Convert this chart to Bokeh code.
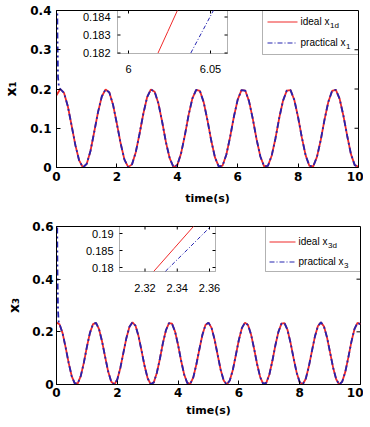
import math
from bokeh.plotting import figure
from bokeh.layouts import column
from bokeh.models import Range1d, BoxAnnotation, FixedTicker
from bokeh.core.properties import value
from bokeh.embed import file_html
from bokeh.resources import INLINE

# ---------------- data ----------------
time_1 = [round(0.125 * i, 3) for i in range(81)]
ideal_x1d = [0.184, 0.200, 0.190, 0.156, 0.107, 0.057, 0.018, 0.000, 0.009, 0.042,
             0.091, 0.141, 0.181, 0.199, 0.191, 0.159, 0.111, 0.061, 0.020, 0.001,
             0.008, 0.039, 0.086, 0.137, 0.179, 0.199, 0.193, 0.163, 0.116, 0.064,
             0.023, 0.001, 0.006, 0.036, 0.082, 0.134, 0.176, 0.198, 0.195, 0.166,
             0.120, 0.068, 0.025, 0.002, 0.005, 0.033, 0.078, 0.130, 0.173, 0.197,
             0.196, 0.169, 0.124, 0.072, 0.028, 0.003, 0.004, 0.030, 0.074, 0.126,
             0.170, 0.196, 0.197, 0.172, 0.128, 0.076, 0.031, 0.004, 0.003, 0.027,
             0.070, 0.122, 0.167, 0.195, 0.198, 0.175, 0.132, 0.081, 0.034, 0.006,
             0.002]
spike_t1 = [0.0, 0.015, 0.03, 0.05, 0.08]
spike_x1 = [1.2, 0.62, 0.35, 0.23, 0.205]
time_p1 = spike_t1 + time_1[1:]
practical_x1 = spike_x1 + ideal_x1d[1:]

time_3 = [round(0.1 * i, 2) for i in range(101)]
ideal_x3d = [0.235, 0.229, 0.195, 0.141, 0.082, 0.032, 0.004, 0.004, 0.033, 0.083,
             0.143, 0.196, 0.229, 0.234, 0.210, 0.163, 0.105, 0.049, 0.011, 0.000,
             0.019, 0.063, 0.120, 0.177, 0.219, 0.236, 0.223, 0.183, 0.127, 0.069,
             0.023, 0.001, 0.008, 0.044, 0.097, 0.157, 0.206, 0.233, 0.231, 0.201,
             0.150, 0.090, 0.038, 0.006, 0.002, 0.027, 0.076, 0.134, 0.189, 0.226,
             0.235, 0.215, 0.171, 0.113, 0.056, 0.015, 0.000, 0.015, 0.055, 0.112,
             0.170, 0.215, 0.235, 0.226, 0.190, 0.136, 0.077, 0.028, 0.002, 0.006,
             0.037, 0.089, 0.149, 0.200, 0.231, 0.233, 0.207, 0.158, 0.099, 0.045,
             0.009, 0.001, 0.022, 0.068, 0.126, 0.182, 0.222, 0.236, 0.220, 0.178,
             0.121, 0.064, 0.020, 0.000, 0.011, 0.048, 0.103, 0.162, 0.210, 0.234,
             0.229]
spike_t3 = [0.0, 0.015, 0.03, 0.05, 0.07]
spike_x3 = [1.5, 0.8, 0.45, 0.28, 0.24]
time_p3 = spike_t3 + time_3[1:]
practical_x3 = spike_x3 + ideal_x3d[1:]

# zoomed insets
inset1_t_ideal = [6.018, 6.024, 6.030]
inset1_v_ideal = [0.1820, 0.1832, 0.1844]
inset1_t_prac = [6.038, 6.045, 6.052]
inset1_v_prac = [0.1820, 0.1832, 0.1844]
inset1_xticks = [6.0, 6.05]
inset1_xlabels = ["6", "6.05"]
inset1_yticks = [0.182, 0.183, 0.184]
inset1_ylabels = ["0.182", "0.183", "0.184"]

inset3_t_ideal = [2.3255, 2.338, 2.3505]
inset3_v_ideal = [0.1789, 0.1856, 0.1923]
inset3_t_prac = [2.3327, 2.347, 2.3612]
inset3_v_prac = [0.1789, 0.1856, 0.1923]
inset3_xticks = [2.32, 2.34, 2.36]
inset3_xlabels = ["2.32", "2.34", "2.36"]
inset3_yticks = [0.18, 0.185, 0.19]
inset3_ylabels = ["0.18", "0.185", "0.19"]

x_ticks = [0, 2, 4, 6, 8, 10]
y_ticks_1 = [0, 0.1, 0.2, 0.3, 0.4]
y_ticks_3 = [0, 0.2, 0.4, 0.6]

RED = "#f02a2a"
BLUE = "#2424b0"
DASHDOT = "6 3 2 3"


def build(P, y_origin):
    L, T, W, H, YM = P["left"], P["top"], P["w"], P["h"], P["ymax"]

    def mx(px):
        return (px - L) / W * 10.0

    def my(py):
        return (T + H - py) / H * YM

    p = figure(frame_width=W, frame_height=H, output_backend="svg",
               toolbar_location=None,
               x_range=Range1d(0, 10), y_range=Range1d(0, YM),
               min_border_left=L, min_border_right=P["right"],
               min_border_top=T - y_origin, min_border_bottom=P["bbot"],
               background_fill_color="white", border_fill_color="white")
    p.outline_line_color = "black"
    p.outline_line_width = 1
    p.grid.visible = False

    for ax in (p.xaxis[0], p.yaxis[0]):
        ax.major_tick_in = 4
        ax.major_tick_out = 0
        ax.minor_tick_in = 0
        ax.minor_tick_out = 0
        ax.axis_line_color = "black"
        ax.major_tick_line_color = "black"
        ax.major_label_text_font = "DejaVu Sans"
        ax.major_label_text_font_style = "bold"
        ax.major_label_text_font_size = "12px"
        ax.major_label_text_color = "black"
        ax.axis_label_text_font = "DejaVu Sans"
        ax.axis_label_text_font_style = "bold"
        ax.axis_label_text_color = "black"
    p.xaxis[0].ticker = FixedTicker(ticks=x_ticks)
    p.yaxis[0].ticker = FixedTicker(ticks=P["yticks"])
    p.xaxis[0].major_label_standoff = P["xstand"]
    p.yaxis[0].major_label_standoff = P["ystand"]
    p.xaxis[0].axis_label = "time(s)"
    p.xaxis[0].axis_label_text_font_size = "11px"
    p.xaxis[0].axis_label_standoff = P["xlab_stand"]
    p.yaxis[0].axis_label = P["ylab"]
    p.yaxis[0].axis_label_text_font_size = "14px"
    p.yaxis[0].axis_label_standoff = P["ylab_stand"]

    # main curves
    p.line(P["t"], P["ideal"], color=RED, line_width=1.8)
    p.line(P["tp"], P["prac"], color=BLUE, line_width=1.8, line_dash=DASHDOT)

    # right-hand mirrored ticks (box style)
    rt = P["yticks"][1:-1]
    p.segment(x0=[10] * len(rt), y0=rt, x1=[mx(L + W - 4)] * len(rt), y1=rt,
              color="black", line_width=1)

    # ---- inset (zoomed view) mapped through extra ranges ----
    I = P["inset"]
    (xa, xpa), (xb, xpb) = I["xanch"]
    (ya, ypa), (yb, ypb) = I["yanch"]
    sx = (xb - xa) / (xpb - xpa)
    sy = (yb - ya) / (ypb - ypa)
    ixv = lambda px: xa + (px - xpa) * sx
    iyv = lambda py: ya + (py - ypa) * sy
    p.extra_x_ranges = {"ix": Range1d(ixv(L), ixv(L + W))}
    p.extra_y_ranges = {"iy": Range1d(iyv(T + H), iyv(T))}
    bl, br, bt, bb = I["box"]
    p.add_layout(BoxAnnotation(left=mx(bl), right=mx(br), top=YM, bottom=my(bb),
                               fill_color=None, line_color="black", line_width=1))
    p.line(I["ti"], I["vi"], color=RED, line_width=1, x_range_name="ix", y_range_name="iy")
    p.line(I["tp"], I["vp"], color=BLUE, line_width=1, line_dash="4 2 1 2",
           x_range_name="ix", y_range_name="iy")
    x0s, y0s, x1s, y1s = [], [], [], []
    for xt in I["xt"]:
        if ixv(bl) <= xt <= ixv(br):
            x0s += [xt, xt]; x1s += [xt, xt]
            y0s += [iyv(bb), iyv(bt)]; y1s += [iyv(bb - 3), iyv(bt + 3)]
    for yt in I["yt"]:
        if iyv(bb) <= yt <= iyv(bt):
            y0s += [yt, yt]; y1s += [yt, yt]
            x0s += [ixv(bl), ixv(br)]; x1s += [ixv(bl + 3), ixv(br - 3)]
    p.segment(x0=x0s, y0=y0s, x1=x1s, y1=y1s, color="black", line_width=1,
              x_range_name="ix", y_range_name="iy")
    p.text(x=I["xt"], y=[iyv(I["xlab_y"])] * len(I["xt"]), text=I["xl"],
           text_font=value("Liberation Sans"), text_font_size="11px",
           text_align="center", text_baseline="middle", text_color="black",
           x_range_name="ix", y_range_name="iy")
    p.text(x=[ixv(I["ylab_r"])] * len(I["yt"]), y=I["yt"], text=I["yl"],
           text_font=value("Liberation Sans"), text_font_size="11px",
           text_align="right", text_baseline="middle", text_color="black",
           x_range_name="ix", y_range_name="iy")

    # ---- legend ----
    G = P["legend"]
    gl, gr, gt, gb = G["box"]
    p.add_layout(BoxAnnotation(left=mx(gl), right=mx(gr), top=my(gt), bottom=my(gb),
                               fill_color=None, line_color="black", line_width=1))
    y1, y2 = G["rows"]
    lx0, lx1 = G["line"]
    p.segment(x0=[mx(lx0)], y0=[my(y1)], x1=[mx(lx1)], y1=[my(y1)], line_color=RED,
              line_width=1.2)
    p.segment(x0=[mx(lx0)], y0=[my(y2)], x1=[mx(lx1)], y1=[my(y2)], line_color=BLUE,
              line_width=1.2, line_dash="5 2 1 2")
    tx = G["text"]
    p.text(x=[mx(tx), mx(tx)], y=[my(y1 - 1), my(y2 - 1)], text=["ideal x", "practical x"],
           text_font=value("Liberation Sans"), text_font_size="10px",
           text_align="left", text_baseline="middle", text_color="black")
    p.text(x=[mx(tx + 29.5), mx(tx + 45.5)], y=[my(y1 + 3), my(y2 + 3)], text=G["subs"],
           text_font=value("Liberation Sans"), text_font_size="8px",
           text_align="left", text_baseline="middle", text_color="black")
    return p


TOP = dict(left=55, top=10, w=302, h=157, ymax=0.4, right=5, bbot=50,
           yticks=y_ticks_1, xstand=4, ystand=5, xlab_stand=8, ylab="x\u2081", ylab_stand=8,
           t=time_1, ideal=ideal_x1d, tp=time_p1, prac=practical_x1,
           inset=dict(xanch=((6.0, 127), (6.05, 209)), yanch=((0.182, 52.5), (0.184, 16.5)),
                      box=(116, 226, 10, 53), xlab_y=68, ylab_r=109,
                      ti=inset1_t_ideal, vi=inset1_v_ideal, tp=inset1_t_prac, vp=inset1_v_prac,
                      xt=inset1_xticks, xl=inset1_xlabels, yt=inset1_yticks, yl=inset1_ylabels),
           legend=dict(box=(261, 357, 10, 54), rows=(21.5, 42.5), line=(266, 296), text=299,
                       subs=["1d", "1"]))

BOT = dict(left=52, top=226, w=304, h=158, ymax=0.6, right=6, bbot=35,
           yticks=y_ticks_3, xstand=3, ystand=3, xlab_stand=4, ylab="x\u2083", ylab_stand=7,
           t=time_3, ideal=ideal_x3d, tp=time_p3, prac=practical_x3,
           inset=dict(xanch=((2.32, 140.5), (2.36, 205)), yanch=((0.18, 267), (0.19, 233)),
                      box=(115, 211, 226, 271), xlab_y=287.5, ylab_r=109,
                      ti=inset3_t_ideal, vi=inset3_v_ideal, tp=inset3_t_prac, vp=inset3_v_prac,
                      xt=inset3_xticks, xl=inset3_xlabels, yt=inset3_yticks, yl=inset3_ylabels),
           legend=dict(box=(261, 356, 226, 271), rows=(241.5, 261.5), line=(265, 291), text=294,
                       subs=["3d", "3"]))

p1 = build(TOP, 0)
p2 = build(BOT, 10 + 157 + 50)
layout = column(p1, p2, spacing=0)
open("out.html", "w").write(file_html(layout, INLINE))
